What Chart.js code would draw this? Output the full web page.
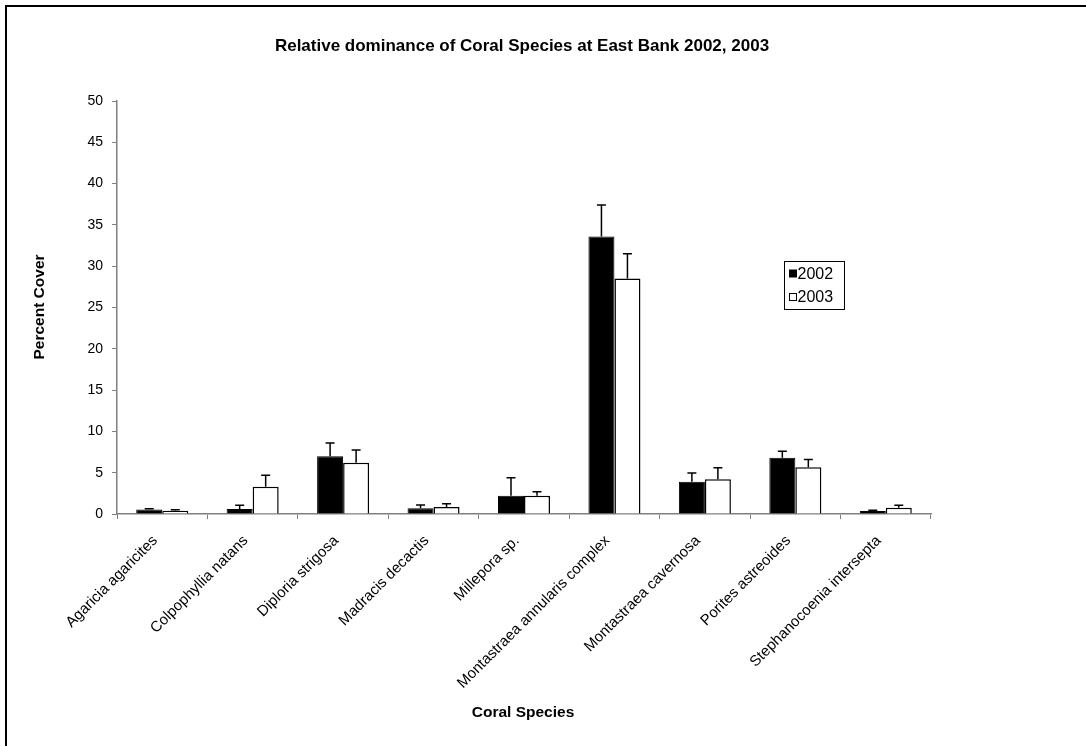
<!DOCTYPE html>
<html>
<head>
<meta charset="utf-8">
<style>
  html, body { margin: 0; padding: 0; background: #fff; }
  #wrap { width: 1086px; height: 746px; position: relative; }
</style>
<script src="https://cdn.jsdelivr.net/npm/chart.js@4.4.1/dist/chart.umd.min.js"></script>
</head>
<body>
<div id="wrap"><canvas id="c" width="1086" height="746"></canvas></div>
<script>
// Species surveyed at East Bank
const species = [
  "Agaricia agaricites",
  "Colpophyllia natans",
  "Diploria strigosa",
  "Madracis decactis",
  "Millepora sp.",
  "Montastraea annularis complex",
  "Montastraea cavernosa",
  "Porites astreoides",
  "Stephanocoenia intersepta"
];

// Mean percent cover per year
const cover2002 = [0.55, 0.6, 7.0, 0.7, 2.2, 33.6, 3.9, 6.8, 0.35];
const cover2003 = [0.4, 3.3, 6.2, 0.85, 2.2, 28.5, 4.2, 5.65, 0.75];

// Upper error (standard error) per year
const err2002 = [0.1, 0.45, 1.6, 0.4, 2.2, 3.8, 1.05, 0.8, 0.1];
const err2003 = [0.1, 1.4, 1.55, 0.4, 0.5, 3.0, 1.4, 0.95, 0.3];

const yTicks = [0, 5, 10, 15, 20, 25, 30, 35, 40, 45, 50];

const FONT = "'Liberation Sans', Arial, Helvetica, sans-serif";
const AXIS_GREY = "#808080";

// Draws an upward error whisker with a cap on every bar
const errorBars = {
  id: "errorBars",
  afterDatasetsDraw(chart) {
    const ctx = chart.ctx;
    const y = chart.scales.y;
    ctx.save();
    ctx.strokeStyle = "#000";
    ctx.lineWidth = 1.5;
    chart.data.datasets.forEach((ds, di) => {
      const meta = chart.getDatasetMeta(di);
      meta.data.forEach((bar, i) => {
        const top = y.getPixelForValue(ds.data[i] + ds.errors[i]);
        const base = y.getPixelForValue(ds.data[i]);
        ctx.beginPath();
        ctx.moveTo(bar.x, base);
        ctx.lineTo(bar.x, top);
        ctx.moveTo(bar.x - 4.5, top);
        ctx.lineTo(bar.x + 4.5, top);
        ctx.stroke();
      });
    });
    ctx.restore();
  }
};

// Frame, title, axis titles and boxed legend
const decorations = {
  id: "decorations",
  afterDraw(chart) {
    const ctx = chart.ctx;
    ctx.save();
    // outer frame
    ctx.strokeStyle = "#000";
    ctx.lineWidth = 2;
    ctx.strokeRect(6, 6, 1200, 1000);

    ctx.fillStyle = "#000";
    ctx.textAlign = "center";
    ctx.textBaseline = "middle";
    ctx.font = "bold 17px " + FONT;
    ctx.fillText("Relative dominance of Coral Species at East Bank 2002, 2003", 522, 46);

    ctx.font = "bold 15.5px " + FONT;
    ctx.fillText("Coral Species", 523, 713);

    ctx.save();
    ctx.translate(40, 307);
    ctx.rotate(-Math.PI / 2);
    ctx.fillText("Percent Cover", 0, 0);
    ctx.restore();

    // legend box
    const lx = 784, ly = 261, lw = 60, lh = 48;
    ctx.fillStyle = "#fff";
    ctx.fillRect(lx, ly, lw, lh);
    ctx.strokeStyle = "#000";
    ctx.lineWidth = 1;
    ctx.strokeRect(lx + 0.5, ly + 0.5, lw, lh);
    ctx.font = "16px " + FONT;
    ctx.textAlign = "left";
    chart.data.datasets.forEach((ds, i) => {
      const cy = 274 + i * 23.5;
      ctx.fillStyle = ds.backgroundColor;
      ctx.fillRect(789.5, cy - 4, 7, 7);
      ctx.strokeStyle = "#000";
      ctx.strokeRect(789.5, cy - 4, 7, 7);
      ctx.fillStyle = "#000";
      ctx.fillText(ds.label, 797.5, cy + 0.5);
    });
    ctx.restore();
  }
};

new Chart(document.getElementById("c"), {
  type: "bar",
  data: {
    labels: species,
    datasets: [
      { label: "2002", data: cover2002, errors: err2002,
        backgroundColor: "#000000", borderColor: "#000000", borderWidth: 1 },
      { label: "2003", data: cover2003, errors: err2003,
        backgroundColor: "#ffffff", borderColor: "#000000", borderWidth: 1.5 }
    ]
  },
  options: {
    responsive: false,
    animation: false,
    devicePixelRatio: 1,
    layout: { padding: { left: 0, right: 155, top: 101, bottom: 0 } },
    datasets: { bar: { categoryPercentage: 0.575, barPercentage: 1.0 } },
    plugins: {
      legend: { display: false },
      title: { display: false },
      tooltip: { enabled: false }
    },
    scales: {
      x: {
        offset: true,
        afterFit(s) { s.height = 746 - 514; },
        grid: { offset: true, drawOnChartArea: false, drawTicks: true, tickLength: 5, color: AXIS_GREY, lineWidth: 1 },
        border: { display: true, color: AXIS_GREY, width: 1.5 },
        ticks: { color: "#000", font: { family: FONT, size: 15 }, minRotation: 45, maxRotation: 45, padding: 13, labelOffset: -7, autoSkip: false }
      },
      y: {
        min: 0, max: 50,
        afterFit(s) { s.width = 117; },
        afterBuildTicks(s) { s.ticks = yTicks.map(v => ({ value: v })); },
        grid: { drawOnChartArea: false, drawTicks: true, tickLength: 5, color: AXIS_GREY, lineWidth: 1 },
        border: { display: true, color: AXIS_GREY, width: 1.5 },
        ticks: { color: "#000", font: { family: FONT, size: 14 }, padding: 9 }
      }
    }
  },
  plugins: [errorBars, decorations]
});
</script>
</body>
</html>
